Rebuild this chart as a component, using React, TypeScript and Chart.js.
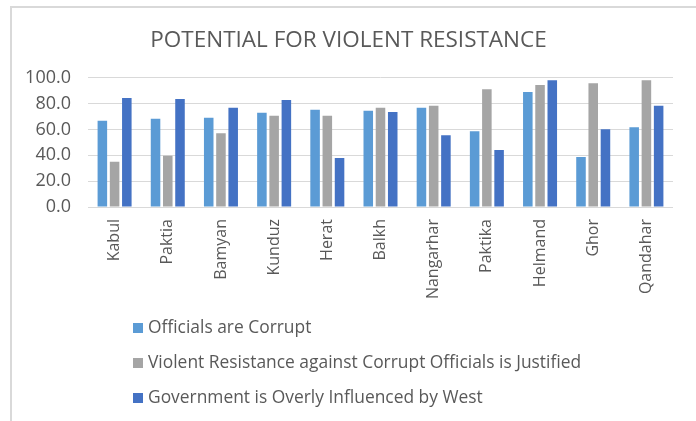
import React, { useEffect, useRef } from "react";
import { Chart, registerables } from "chart.js";

Chart.register(...registerables);

const TITLE = "POTENTIAL FOR VIOLENT RESISTANCE";
const provinces = ["Kabul", "Paktia", "Bamyan", "Kunduz", "Herat", "Balkh", "Nangarhar", "Paktika", "Helmand", "Ghor", "Qandahar"];
const seriesNames = [
  "Officials are Corrupt",
  "Violent Resistance against Corrupt Officials is Justified",
  "Government is Overly Influenced by West",
];
const officialsCorrupt = [66.7, 68.3, 69.1, 72.9, 75.3, 74.5, 76.8, 58.5, 88.9, 38.7, 61.6];
const violenceJustified = [35.0, 39.7, 57.0, 70.6, 70.6, 76.8, 78.3, 91.0, 94.3, 95.7, 98.0];
const influencedByWest = [84.3, 83.5, 76.8, 82.8, 37.9, 73.5, 55.4, 44.1, 98.0, 60.1, 78.3];
const yTicks = [0, 20, 40, 60, 80, 100];
const colors = ["#5B9BD5", "#A5A5A5", "#4472C4"];

const FONT = "'Open Sans', sans-serif";
const TEXT = "#595959";

const legendPlugin = {
  id: "verticalLegend",
  afterDraw(chart: any) {
    const ctx = chart.ctx;
    ctx.save();
    ctx.font = `17.4px ${FONT}`;
    ctx.textBaseline = "middle";
    ctx.textAlign = "left";
    chart.data.datasets.forEach((ds: any, i: number) => {
      const cy = 328 + i * 35;
      ctx.fillStyle = ds.backgroundColor;
      ctx.fillRect(133, cy - 5, 10, 10);
      ctx.fillStyle = TEXT;
      ctx.fillText(ds.label, 148, cy);
    });
    ctx.restore();
  },
};

export default function App() {
  const ref = useRef<HTMLCanvasElement>(null);
  useEffect(() => {
    document.body.style.margin = "0";
    const chart = new Chart(ref.current!, {
      type: "bar",
      data: {
        labels: provinces,
        datasets: [officialsCorrupt, violenceJustified, influencedByWest].map((d, i) => ({
          label: seriesNames[i],
          data: d,
          backgroundColor: colors[i],
          borderWidth: 0,
          categoryPercentage: 0.69,
          barPercentage: 0.78,
        })),
      },
      options: {
        animation: false,
        responsive: false,
        maintainAspectRatio: false,
        layout: { padding: { left: 24, right: 23, top: 0, bottom: 0 } },
        plugins: {
          legend: { display: false },
          tooltip: { enabled: false },
          title: {
            display: true,
            text: TITLE,
            color: TEXT,
            font: { family: FONT, size: 22.5, weight: "normal", lineHeight: 1.2 },
            padding: { top: 27, bottom: 23.7 },
          },
        },
        scales: {
          x: {
            grid: { display: false, drawTicks: false },
            border: { display: false },
            ticks: {
              autoSkip: false,
              minRotation: 90,
              maxRotation: 90,
              padding: 12,
              color: TEXT,
              font: { family: FONT, size: 16 },
            },
            afterFit: (s: any) => { s.height = 214; },
          },
          y: {
            min: 0,
            max: 100,
            afterBuildTicks: (s: any) => { s.ticks = yTicks.map((v) => ({ value: v })); },
            grid: { color: "#D9D9D9", drawTicks: false, lineWidth: 1 },
            border: { display: false },
            ticks: {
              padding: 17,
              color: TEXT,
              font: { family: FONT, size: 18 },
              callback: (v: any) => Number(v).toFixed(1),
            },
            afterFit: (s: any) => { s.width = 64; },
          },
        },
      },
      plugins: [legendPlugin],
    });
    return () => chart.destroy();
  }, []);
  return (
    <div style={{ position: "relative", width: 696, height: 421, overflow: "hidden", background: "#fff" }}>
      <canvas ref={ref} width={696} height={421} style={{ position: "absolute", left: 0, top: 0 }} />
      <div style={{ position: "absolute", left: 10, top: 6, width: 800, height: 500, borderLeft: "2px solid #D9D9D9", borderTop: "2px solid #D9D9D9", pointerEvents: "none" }} />
    </div>
  );
}
